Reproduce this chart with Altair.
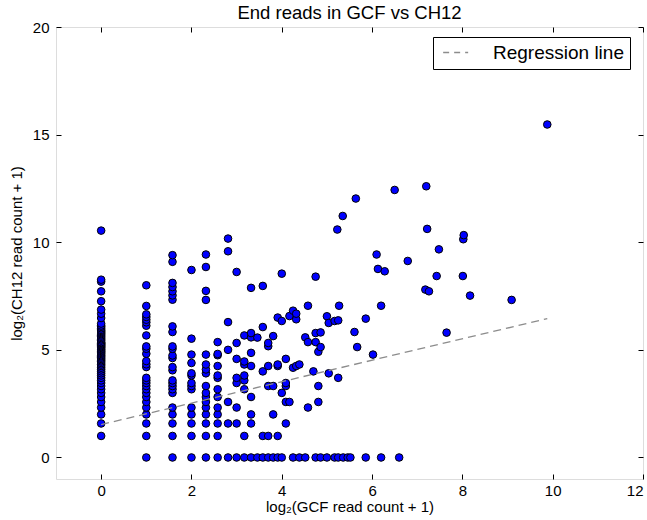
import altair as alt
import pandas as pd

FONT = "Liberation Sans"

# log2(CH12 read count + 1) for each GCF column on the low end
ch12_at_gcf0 = [1.0, 1.58, 2.0, 2.32, 2.58, 2.81, 3.0, 3.17, 3.32, 3.46, 3.58, 3.7, 3.81,
                3.91, 4.0, 4.09, 4.17, 4.25, 4.32, 4.39, 4.46, 4.52, 4.58, 4.64, 4.7, 4.75,
                4.81, 4.86, 4.91, 4.95, 5.0, 5.04, 5.09, 5.13, 5.17, 5.21, 5.25, 5.29, 5.32,
                5.36, 5.43, 5.49, 5.55, 5.61, 5.67, 5.73, 5.78, 5.83, 5.88, 5.93, 6.0, 6.07,
                6.13, 6.22, 6.48, 6.68, 6.87, 7.26, 7.72, 8.17, 8.26, 10.54]
ch12_at_gcf1 = [1.0, 1.58, 2.0, 2.32, 2.58, 2.81, 3.0, 3.17, 3.32, 3.46, 3.58, 3.7, 4.2,
                4.33, 4.48, 4.82, 5.05, 5.16, 5.67, 6.12, 6.28, 6.4, 6.53, 6.65, 7.04, 8.0]
ch12_at_gcf1_58 = [1.0, 1.58, 2.0, 2.32, 3.0, 3.17, 3.32, 3.46, 3.58, 4.05, 4.2, 4.62, 4.74,
                   5.05, 5.16, 5.83, 6.09, 7.33, 7.53, 7.72, 7.92, 8.11, 9.09, 9.4]
ch12_at_gcf2 = [1.0, 1.58, 2.0, 2.32, 3.17, 3.32, 3.46, 3.81, 3.91, 4.39, 4.78, 5.52, 8.71]
ch12_at_gcf2_32 = [1.0, 1.58, 2.0, 2.32, 2.58, 2.81, 3.0, 3.32, 3.91, 4.09, 4.32, 4.78,
                   7.32, 7.74, 8.85, 9.43]
ch12_at_gcf2_58 = [1.0, 1.58, 2.0, 2.32, 2.81, 3.17, 3.7, 3.81, 4.25, 4.75, 4.81, 5.36]
ch12_at_gcf2_81 = [1.58, 2.58, 5.0, 6.29, 9.58, 10.17]
ch12_at_gcf3 = [1.58, 2.32, 3.46, 3.7, 4.58, 5.32, 8.62]

# remaining positions (GCF, CH12), both as log2(count + 1)
gcf_rest = [3.17, 3.17, 3.17, 3.17, 3.17, 3.17, 3.17,
            3.32, 3.32, 3.32, 3.32, 3.32, 3.32, 3.32, 3.32,
            3.46, 3.58, 3.58, 3.58, 3.58,
            3.7, 3.7, 3.7, 3.7, 3.7, 3.81, 3.81, 3.81,
            3.91, 3.91, 3.91, 3.91, 4.0, 4.0, 4.0,
            4.09, 4.09, 4.09, 4.09, 4.09, 4.17, 4.17, 4.25, 4.25,
            4.32, 4.32, 4.32, 4.39, 4.52, 4.58, 4.58, 4.58, 4.7,
            4.75, 4.75, 4.75, 4.81, 4.81, 4.81, 4.86, 4.86,
            5.0, 5.04, 5.04, 5.17, 5.25, 5.25, 5.27, 5.23, 5.35,
            5.61, 5.64, 5.67, 5.86, 6.02, 6.1, 6.13, 6.2, 6.28, 6.5, 6.79,
            7.2, 7.18, 7.22, 7.26, 7.43, 7.48, 7.65,
            8.01, 8.02, 8.03, 8.17, 9.09, 9.88]
ch12_rest = [1.0, 3.17, 3.58, 3.81, 4.32, 4.46, 5.67,
             1.58, 2.0, 2.81, 4.25, 4.86, 5.58, 5.78, 7.88,
             5.57, 1.0, 4.0, 6.06, 7.97,
             1.0, 3.32, 4.25, 5.17, 5.32, 2.0, 3.32, 5.64,
             1.0, 4.25, 4.32, 6.5, 3.0, 6.34, 8.54,
             1.58, 2.58, 3.32, 3.46, 4.58, 2.58, 6.57, 4.17, 6.82,
             4.25, 6.42, 6.68, 4.32, 5.58, 2.32, 5.36, 7.05, 4.0,
             5.36, 5.78, 8.4, 2.58, 3.32, 4.91, 5.13, 5.81,
             6.56, 3.91, 6.25, 6.34, 3.7, 6.37, 7.05, 10.59, 11.22,
             5.83, 12.03, 5.13, 6.45, 4.78, 9.43, 8.76, 7.05, 8.65, 12.43, 9.13,
             12.6, 7.8, 10.62, 7.72, 8.43, 9.67, 5.8,
             8.43, 10.14, 10.33, 7.52, 7.32, 15.47]

# GCF values of positions with no CH12 reads
gcf_zero_ch12 = [1.0, 1.58, 2.0, 2.32, 2.58, 2.81, 3.0, 3.17, 3.32, 3.46, 3.58, 3.7, 3.81,
                 3.91, 4.0, 4.25, 4.39, 4.52, 4.75, 4.86, 5.0, 5.17, 5.25, 5.36, 5.46,
                 5.52, 5.86, 6.2, 6.6]

# fitted regression line end points
reg_x = [0.0, 9.88]
reg_y = [1.53, 6.45]

x_ticks = [0, 2, 4, 6, 8, 10, 12]
y_ticks = [0, 5, 10, 15, 20]

rows = []
for gx, ys in [(0.0, ch12_at_gcf0), (1.0, ch12_at_gcf1), (1.58, ch12_at_gcf1_58),
               (2.0, ch12_at_gcf2), (2.32, ch12_at_gcf2_32), (2.58, ch12_at_gcf2_58),
               (2.81, ch12_at_gcf2_81), (3.0, ch12_at_gcf3)]:
    rows += [{"gcf": gx, "ch12": y} for y in ys]
rows += [{"gcf": gx, "ch12": y} for gx, y in zip(gcf_rest, ch12_rest)]
rows += [{"gcf": gx, "ch12": 0.0} for gx in gcf_zero_ch12]
points = pd.DataFrame(rows)

reg = pd.DataFrame({"gcf": reg_x, "ch12": reg_y, "name": ["Regression line"] * 2})

x_scale = alt.Scale(domain=[-1, 12], nice=False, zero=False)
y_scale = alt.Scale(domain=[-1, 20], nice=False, zero=False)

scatter = alt.Chart(points).mark_circle(
    size=58, color="#0000ff", stroke="black", strokeWidth=1, opacity=1
).encode(
    x=alt.X("gcf:Q", scale=x_scale, axis=alt.Axis(
        orient="bottom", values=x_ticks, ticks=False, domain=False, grid=False,
        title="log₂(GCF read count + 1)", labelPadding=4, titlePadding=1,
        labelFontSize=15, titleFontSize=15, labelFont=FONT, titleFont=FONT,
        titleFontWeight="normal", labelColor="black", titleColor="black")),
    y=alt.Y("ch12:Q", scale=y_scale, axis=alt.Axis(
        orient="left", values=y_ticks, ticks=False, domain=False, grid=False,
        title="log₂(CH12 read count + 1)", labelPadding=7, titlePadding=8,
        labelFontSize=15, titleFontSize=15, labelFont=FONT, titleFont=FONT,
        titleFontWeight="normal", labelColor="black", titleColor="black")),
)

# inward ticks on the bottom and left edges
tick_axis = dict(ticks=True, tickSize=5, tickColor="black", tickWidth=1, labels=False,
                 domain=False, grid=False, title=None, offset=-5)

line = alt.Chart(reg).mark_line(strokeDash=[8, 5], strokeWidth=1.3).encode(
    x=alt.X("gcf:Q", scale=x_scale, axis=alt.Axis(orient="bottom", values=x_ticks, **tick_axis)),
    y=alt.Y("ch12:Q", scale=y_scale, axis=alt.Axis(orient="left", values=y_ticks, **tick_axis)),
    color=alt.Color("name:N", scale=alt.Scale(range=["#8c8c8c"]), legend=alt.Legend(
        title=None, orient="none", legendX=377, legendY=10,
        symbolType="M-1.07,0H3.93", symbolSize=100, symbolDash=[6, 5],
        symbolStrokeWidth=1.3, labelFontSize=19, labelFont=FONT, labelColor="black",
        labelOffset=35, strokeColor="black", fillColor="white", padding=6,
        cornerRadius=0)),
)

# inward ticks on the top and right edges
frame = alt.Chart(reg).mark_line(opacity=0).encode(
    x=alt.X("gcf:Q", scale=x_scale, axis=alt.Axis(orient="top", values=x_ticks, **tick_axis)),
    y=alt.Y("ch12:Q", scale=y_scale, axis=alt.Axis(orient="right", values=y_ticks, **tick_axis)),
)

chart = alt.layer(scatter, line, frame).resolve_axis(
    x="independent", y="independent"
).properties(
    width=587, height=452,
    padding={"left": 56, "top": 27, "right": 4, "bottom": 41},
    autosize=alt.AutoSizeParams(type="none"),
    title=alt.Title("End reads in GCF vs CH12", fontSize=18.5, font=FONT,
                    fontWeight="normal", color="black", offset=-2),
).configure_view(stroke="black", strokeWidth=1).configure(background="white")

chart.save("out.html", embed_options={"renderer": "svg", "actions": False})
